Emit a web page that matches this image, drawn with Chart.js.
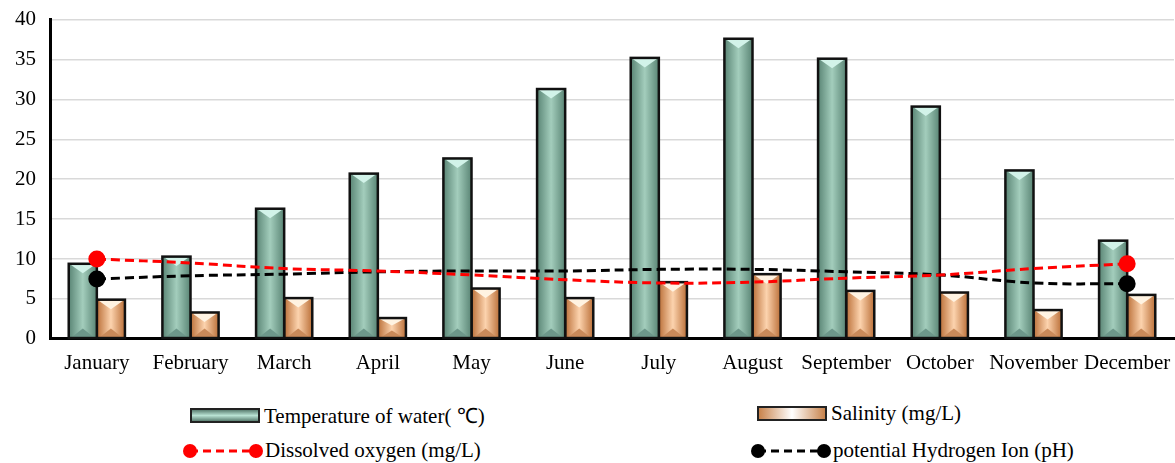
<!DOCTYPE html>
<html>
<head>
<meta charset="utf-8">
<script src="https://cdn.jsdelivr.net/npm/chart.js@4.4.0/dist/chart.umd.min.js"></script>
<style>
    body { margin: 0; background: #fff; overflow: hidden; font-family: "Liberation Serif", "Times New Roman", serif; }
    #wrap { position: relative; width: 1175px; height: 463px; overflow: hidden; }
    #chartBox { position: absolute; left: 0; top: -7px; width: 1184px; height: 395px; }
    .lg { position: absolute; font-family: "Liberation Serif", serif; font-size: 21px; color: #000; display: flex; align-items: center; white-space: nowrap; }
    .sw { width: 66px; height: 11px; border: 2px solid #222; margin-right: 4px; }
    .sw.temp { background: linear-gradient(to bottom, #5b7f72, #b9e2d3 50%, #5b7f72); }
    .sw.sal { background: linear-gradient(to right, #c8834c, #ffffff 50%, #c8834c); }
    .lg svg { margin-right: 1px; }
</style>
</head>
<body>
<div id="wrap">
    <div id="chartBox"><canvas id="chart"></canvas></div>
    <div class="lg" style="left:190px; top:401px;"><div class="sw temp"></div><span>Temperature of water( ℃)</span></div>
    <div class="lg" style="left:757px; top:401px;"><div class="sw sal"></div><span>Salinity (mg/L)</span></div>
    <div class="lg" style="left:182px; top:438px;">
        <svg width="82" height="20"><line x1="8" y1="10" x2="74" y2="10" stroke="#ff0000" stroke-width="3" stroke-dasharray="8,5"/><circle cx="8" cy="10" r="7" fill="#ff0000"/><circle cx="74" cy="10" r="7" fill="#ff0000"/></svg><span>Dissolved oxygen (mg/L)</span></div>
    <div class="lg" style="left:750px; top:438px;">
        <svg width="82" height="20"><line x1="8" y1="10" x2="74" y2="10" stroke="#000" stroke-width="3" stroke-dasharray="8,5"/><circle cx="8" cy="10" r="7" fill="#000"/><circle cx="74" cy="10" r="7" fill="#000"/></svg><span>potential Hydrogen Ion (pH)</span></div>
</div>
<script>
const months = ['January', 'February', 'March', 'April', 'May', 'June', 'July', 'August', 'September', 'October', 'November', 'December'];
const temperature = [9.4, 10.3, 16.3, 20.7, 22.6, 31.3, 35.2, 37.6, 35.1, 29.1, 21.1, 12.3];
const salinity = [4.9, 3.3, 5.1, 2.6, 6.3, 5.1, 7.1, 8.1, 6.0, 5.8, 3.6, 5.5];
const dissolvedOxygen = [10.0, 9.5, 8.8, 8.5, 8.0, 7.4, 7.0, 7.1, 7.6, 8.0, 8.8, 9.4];
const phValues = [7.5, 7.9, 8.1, 8.4, 8.5, 8.5, 8.7, 8.7, 8.4, 8.0, 7.0, 6.9];

const barStyles = {
    0: { edge: '#5a8575', mid: '#a3cdbc', top: '#d2f3e9', bottom: '#6d978a' },
    1: { edge: '#bb7039', mid: '#fcd3ae', top: '#fff3e2', bottom: '#c98a5a' }
};

// overdraw bars with the bevelled look
const bevelBars = {
    id: 'bevelBars',
    afterDatasetDraw(chart, args) {
        const st = barStyles[args.index];
        if (!st) return;
        const c = chart.ctx;
        c.save();
        args.meta.data.forEach(bar => {
            const x0 = bar.x - bar.width / 2, x1 = bar.x + bar.width / 2;
            const top = bar.y, base = bar.base;
            const g = c.createLinearGradient(x0, 0, x1, 0);
            g.addColorStop(0, st.edge);
            g.addColorStop(0.5, st.mid);
            g.addColorStop(1, st.edge);
            c.fillStyle = g;
            c.fillRect(x0, top, x1 - x0, base - top);
            const t = Math.min(bar.width * 0.45, (base - top) / 2);
            c.fillStyle = st.top;
            c.beginPath();
            c.moveTo(x0 + 2, top + 1);
            c.lineTo(x1 - 2, top + 1);
            c.lineTo(bar.x, top + t * 0.75);
            c.closePath();
            c.fill();
            c.fillStyle = st.bottom;
            c.beginPath();
            c.moveTo(x0 + 2, base);
            c.lineTo(x1 - 2, base);
            c.lineTo(bar.x, base - t * 0.75);
            c.closePath();
            c.fill();
            c.strokeStyle = '#111';
            c.lineWidth = 2.5;
            c.strokeRect(x0, top, x1 - x0, base - top);
        });
        c.restore();
    }
};

const endPoints = ctx => (ctx.dataIndex === 0 || ctx.dataIndex === months.length - 1) ? 7 : 0;

new Chart(document.getElementById('chart'), {
    type: 'bar',
    data: {
        labels: months,
        datasets: [
            { label: 'Temperature of water( ℃)', data: temperature, backgroundColor: '#9cc6b5', borderWidth: 0, order: 2, barPercentage: 1.0, categoryPercentage: 0.6 },
            { label: 'Salinity (mg/L)', data: salinity, backgroundColor: '#f0b98a', borderWidth: 0, order: 2, barPercentage: 1.0, categoryPercentage: 0.6 },
            { type: 'line', label: 'Dissolved oxygen (mg/L)', data: dissolvedOxygen, borderColor: '#ff0000', backgroundColor: '#ff0000', borderWidth: 3, borderDash: [9, 5], tension: 0.4, pointRadius: endPoints, pointHoverRadius: endPoints, order: 0 },
            { type: 'line', label: 'potential Hydrogen Ion (pH)', data: phValues, borderColor: '#000', backgroundColor: '#000', borderWidth: 3, borderDash: [9, 5], tension: 0.4, pointRadius: endPoints, pointHoverRadius: endPoints, order: 1 }
        ]
    },
    options: {
        responsive: true,
        maintainAspectRatio: false,
        animation: false,
        layout: { padding: { top: 0, right: 0, left: 1, bottom: 0 } },
        scales: {
            x: {
                grid: { display: false, drawTicks: false },
                border: { color: '#000', width: 3 },
                ticks: { color: '#000', font: { family: 'Liberation Serif', size: 21 }, padding: 12, maxRotation: 0, autoSkip: false }
            },
            y: {
                min: 0, max: 40,
                ticks: { stepSize: 5, color: '#000', font: { family: 'Liberation Serif', size: 21 }, padding: 14 },
                grid: { color: '#d9d9d9', lineWidth: 1.5, drawTicks: false },
                border: { color: '#000', width: 3 }
            }
        },
        plugins: {
            legend: { display: false },
            tooltip: { enabled: false }
        }
    },
    plugins: [bevelBars]
});
</script>
</body>
</html>
